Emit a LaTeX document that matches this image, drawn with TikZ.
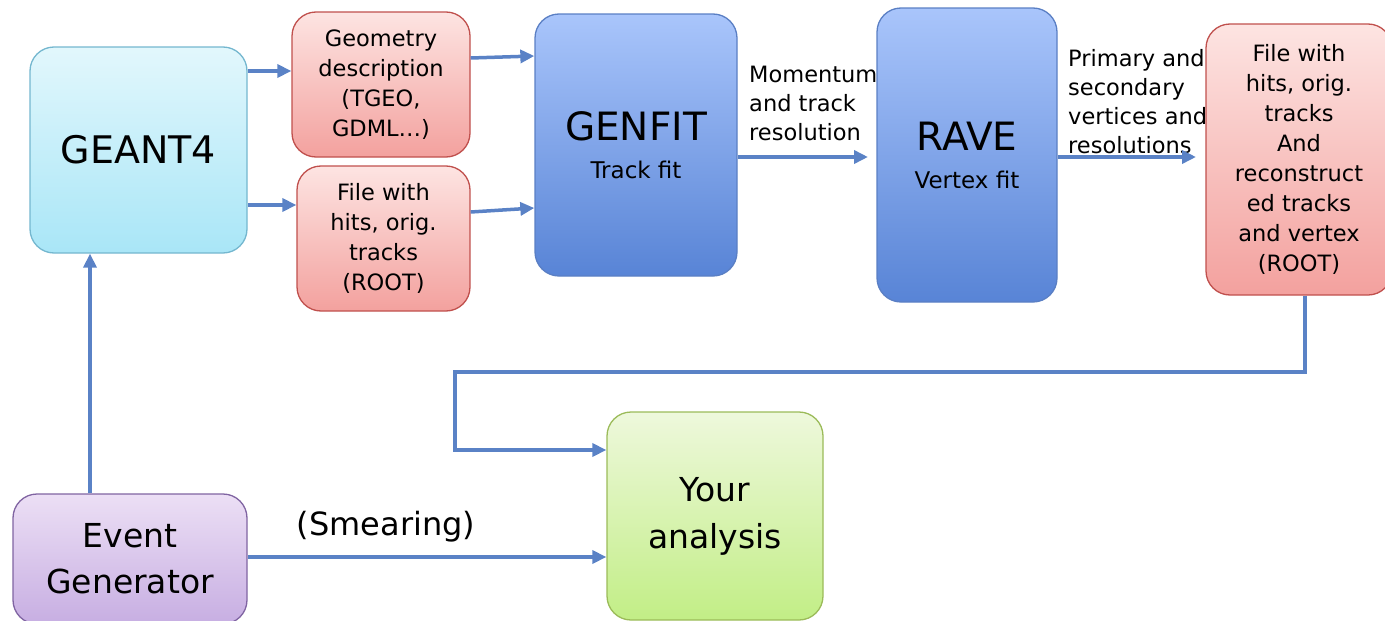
\documentclass[tikz,border=0pt]{standalone}
\usepackage{fontspec}
\setmainfont{DejaVu Sans}
\usetikzlibrary{arrows.meta}
\definecolor{cyanT}{HTML}{E2F7FC}
\definecolor{cyanB}{HTML}{A9E6F7}
\definecolor{cyanD}{HTML}{74B7CF}
\definecolor{redT}{HTML}{FDE4E2}
\definecolor{redB}{HTML}{F3A19E}
\definecolor{redD}{HTML}{C0504D}
\definecolor{blueT}{HTML}{A9C5FB}
\definecolor{blueB}{HTML}{5884D6}
\definecolor{blueD}{HTML}{5A7FC4}
\definecolor{purT}{HTML}{ECDFF5}
\definecolor{purB}{HTML}{C7AEE2}
\definecolor{purD}{HTML}{8064A2}
\definecolor{grnT}{HTML}{EEF8DC}
\definecolor{grnB}{HTML}{C2EE86}
\definecolor{grnD}{HTML}{9BBB59}
\definecolor{arr}{HTML}{5A82C6}
\tikzset{
  box/.style={rounded corners=24pt, line width=1.3pt, align=center, inner sep=0pt},
  cyanbox/.style={box, draw=cyanD, top color=cyanT, bottom color=cyanB},
  redbox/.style={box, draw=redD, top color=redT, bottom color=redB},
  bluebox/.style={box, draw=blueD, top color=blueT, bottom color=blueB},
  purbox/.style={box, draw=purD, top color=purT, bottom color=purB},
  grnbox/.style={box, draw=grnD, top color=grnT, bottom color=grnB},
  conn/.style={draw=arr, line width=3.5pt, -{Triangle[length=14pt,width=13pt]}},
  lbl/.style={align=left, inner sep=0pt, font=\fontsize{22.5}{29}\selectfont},
  small/.style={font=\fontsize{22.5}{30}\selectfont},
}
\begin{document}
\begin{tikzpicture}[x=1pt,y=-1pt]
\useasboundingbox (0,0) rectangle (1385,621);
% labels behind boxes
\node[lbl, anchor=north west] (mom) at (749,66) {Momentum\\and track\\resolution};
\node[lbl, anchor=north west] (prim) at (1068,49) {Primary and\\secondary\\vertices and\\resolutions};
% boxes
\node[cyanbox, minimum width=217pt, minimum height=206pt, font=\fontsize{38}{44}\selectfont] (geant) at (138.5,150) {GEANT4};
\node[redbox, small, minimum width=178pt, minimum height=145pt] (geo) at (381,84.5) {Geometry\\description\\(TGEO,\\GDML…)};
\node[redbox, small, minimum width=173pt, minimum height=145pt] (file1) at (383.5,238.5) {File with\\hits, orig.\\tracks\\(ROOT)};
\node[bluebox, minimum width=202pt, minimum height=262pt, font=\fontsize{23}{38}\selectfont] (genfit) at (636,145) {{\fontsize{39}{38}\selectfont GENFIT}\\Track fit};
\node[bluebox, minimum width=180pt, minimum height=294pt, font=\fontsize{23}{38}\selectfont] (rave) at (967,155) {{\fontsize{39}{38}\selectfont RAVE}\\Vertex fit};
\node[redbox, small, minimum width=186pt, minimum height=271pt] (file2) at (1299,159.5) {File with\\hits, orig.\\tracks\\And\\reconstruct\\ed tracks\\and vertex\\(ROOT)};
\node[purbox, minimum width=234pt, minimum height=130pt, font=\fontsize{33}{46}\selectfont] (evgen) at (130,559) {Event\\Generator};
\node[grnbox, minimum width=216pt, minimum height=208pt, font=\fontsize{33}{47}\selectfont] (ana) at (715,516) {Your\\analysis};
\node[font=\fontsize{32}{36}\selectfont, inner sep=0pt] (smear) at (386,527) {(Smearing)};
% connectors
\draw[conn] (geant.east |- 0,71) -- (geo.west |- 0,71);
\draw[conn] (geant.east |- 0,205) -- (file1.west |- 0,205);
\draw[conn] (geo.east |- 0,58) -- (genfit.west |- 0,56);
\draw[conn] (file1.east |- 0,212) -- (genfit.west |- 0,208);
\coordinate (rvin) at (868,157);
\draw[conn] (genfit.east |- 0,157) -- (rvin);
\coordinate (f2in) at (1196,157);
\draw[conn] (rave.east |- 0,157) -- (f2in);
\coordinate (c1) at (1305,372);
\coordinate (c2) at (455,372);
\coordinate (c3) at (455,450);
\draw[conn] (file2.south -| 1305,0) -- (c1) -- (c2) -- (c3) -- (ana.west |- c3);
\draw[conn] (evgen.north -| 90,0) -- (geant.south -| 90,0);
\draw[conn] (evgen.east |- 0,557) -- (ana.west |- 0,557);
\end{tikzpicture}
\end{document}
